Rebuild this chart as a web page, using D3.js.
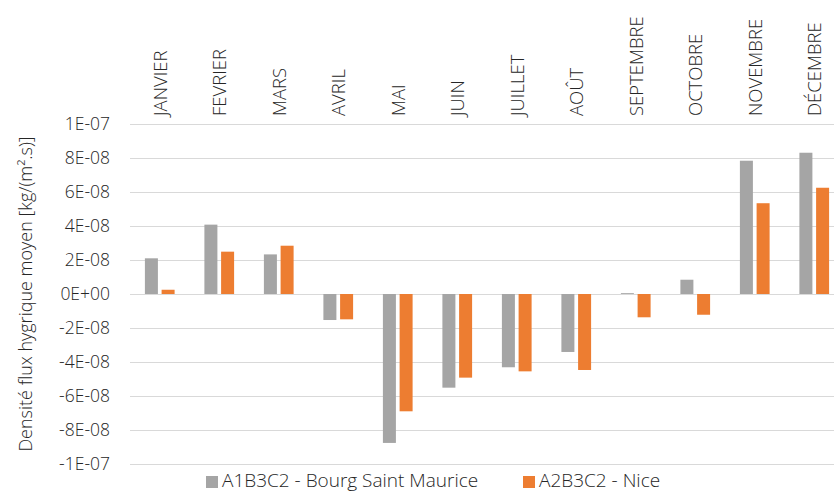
<!DOCTYPE html>
<html>
<head>
<meta charset="utf-8">
<script src="https://cdn.jsdelivr.net/npm/d3@7"></script>
<style>
  body { margin: 0; background: #fff; }
  text { font-family: "Open Sans", sans-serif; font-weight: 300; fill: #262626; }
</style>
</head>
<body>
<div id="svg_container"></div>
<script>
/* -----------------------
data
------------------------- */

var months = ['JANVIER', 'FEVRIER', 'MARS', 'AVRIL', 'MAI', 'JUIN', 'JUILLET', 'AOÛT', 'SEPTEMBRE', 'OCTOBRE', 'NOVEMBRE', 'DÉCEMBRE'];
var series_names = ['A1B3C2 - Bourg Saint Maurice', 'A2B3C2 - Nice'];
var bourg = [2.1e-8, 4.08e-8, 2.33e-8, -1.53e-8, -8.76e-8, -5.51e-8, -4.31e-8, -3.41e-8, 0.05e-8, 0.84e-8, 7.84e-8, 8.31e-8];
var nice = [0.25e-8, 2.49e-8, 2.84e-8, -1.49e-8, -6.9e-8, -4.92e-8, -4.55e-8, -4.47e-8, -1.37e-8, -1.22e-8, 5.34e-8, 6.25e-8];
var y_ticks = [1e-7, 8e-8, 6e-8, 4e-8, 2e-8, 0, -2e-8, -4e-8, -6e-8, -8e-8, -1e-7];
var y_tick_labels = ['1E-07', '8E-08', '6E-08', '4E-08', '2E-08', '0E+00', '-2E-08', '-4E-08', '-6E-08', '-8E-08', '-1E-07'];

/* -----------------------
main variables
------------------------- */

var width = 834, height = 493;
var plot_left = 130, plot_right = 844, plot_top = 124, plot_bottom = 464;

var c_grey = '#a5a5a5',
c_orange = '#ed7d31',
c_grid = '#d9d9d9';

var svg = d3.select('#svg_container')
	.append('svg')
	.attr('width', width)
	.attr('height', height);

var x = d3.scaleBand()
	.domain(months)
	.range([plot_left, plot_right]);

var y = d3.scaleLinear()
	.domain([-1e-7, 1e-7])
	.range([plot_bottom, plot_top]);

var bar_w = 13, bar_gap = 3.7;

/* -----------------------
grid
------------------------- */

svg.append('g')
	.selectAll('line')
	.data(y_ticks)
	.enter()
	.append('line')
	.attr('x1', plot_left)
	.attr('x2', plot_right)
	.attr('y1', function(d) { return Math.round(y(d)) + 0.5; })
	.attr('y2', function(d) { return Math.round(y(d)) + 0.5; })
	.attr('stroke', c_grid)
	.attr('stroke-width', 1);

// y labels
svg.append('g')
	.selectAll('text')
	.data(y_ticks)
	.enter()
	.append('text')
	.attr('x', 110)
	.attr('y', function(d) { return y(d); })
	.attr('dy', '0.36em')
	.attr('text-anchor', 'end')
	.attr('font-size', '17.5px')
	.text(function(d, i) { return y_tick_labels[i]; });

// y title
svg.append('text')
	.attr('transform', 'translate(32,' + (plot_top + plot_bottom) / 2 + ') rotate(-90)')
	.attr('text-anchor', 'middle')
	.attr('font-size', '18px')
	.text('Densité flux hygrique moyen [kg/(m².s)]');

// month labels
svg.append('g')
	.selectAll('text')
	.data(months)
	.enter()
	.append('text')
	.attr('transform', function(d) {
		return 'translate(' + (x(d) + x.bandwidth() / 2 + 7) + ',116) rotate(-90)';
	})
	.attr('text-anchor', 'start')
	.attr('font-size', '18.5px')
	.text(function(d) { return d; });

/* -----------------------
bars
------------------------- */

function draw_bars(values, color, offset) {
	svg.append('g')
		.selectAll('rect')
		.data(values)
		.enter()
		.append('rect')
		.attr('x', function(d, i) { return x(months[i]) + x.bandwidth() / 2 + offset; })
		.attr('width', bar_w)
		.attr('y', function(d) { return Math.min(y(d), y(0)); })
		.attr('height', function(d) { return Math.abs(y(d) - y(0)); })
		.attr('fill', color);
}

draw_bars(bourg, c_grey, -bar_gap / 2 - bar_w);
draw_bars(nice, c_orange, bar_gap / 2);

/* -----------------------
legend
------------------------- */

var legend_items = [
	{ name: series_names[0], color: c_grey, x: 206 },
	{ name: series_names[1], color: c_orange, x: 523 }
];

var legend = svg.append('g')
	.selectAll('g')
	.data(legend_items)
	.enter()
	.append('g')
	.attr('transform', function(d) { return 'translate(' + d.x + ',487)'; });

legend.append('rect')
	.attr('x', 0)
	.attr('y', -11)
	.attr('width', 12)
	.attr('height', 12)
	.attr('fill', function(d) { return d.color; });

legend.append('text')
	.attr('x', 16)
	.attr('y', 0)
	.attr('font-size', '19px')
	.text(function(d) { return d.name; });
</script>
</body>
</html>
